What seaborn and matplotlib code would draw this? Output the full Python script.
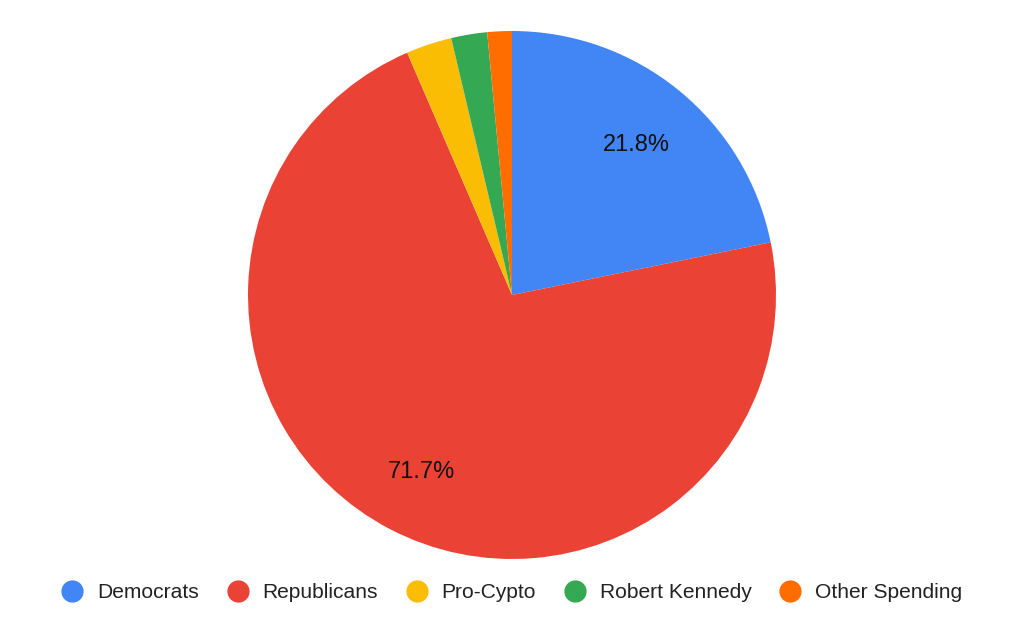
import matplotlib
matplotlib.use("Agg")
import matplotlib.pyplot as plt
import seaborn as sns
from matplotlib.lines import Line2D

sns.set_theme(style="white")
plt.rcParams['font.family'] = ['Liberation Sans', 'DejaVu Sans']

# spending share by group (%)
groups = ["Democrats", "Republicans", "Pro-Cypto", "Robert Kennedy", "Other Spending"]
shares = [21.8, 71.7, 2.8, 2.2, 1.5]
colors = ["#4285F4", "#EA4335", "#FBBC04", "#34A853", "#FF6D01"]

fig = plt.figure(figsize=(10.24, 6.34), dpi=100)
ax = fig.add_axes([0.0, 0.0, 1.0, 1.0])

def fmt(p):
    return f"{p:.1f}%" if p > 5 else ""

wedges, texts, autotexts = ax.pie(
    shares, colors=colors, startangle=90, counterclock=False,
    autopct=fmt, pctdistance=0.745, radius=1.0,
    wedgeprops=dict(linewidth=0),
    textprops=dict(fontsize=17, color="#111111"),
)
for t in autotexts:
    t.set_verticalalignment("center_baseline")

# place pie: center (512, 295) px, radius 264 px
ax.set_aspect("equal")
W, H = 1024, 634
r = 264
cx, cy = 512, H - 295
ax.set_xlim(-cx / r, (W - cx) / r)
ax.set_ylim(-cy / r, (H - cy) / r)
ax.axis("off")

handles = [Line2D([0], [0], marker="o", linestyle="", markersize=15,
                  markerfacecolor=c, markeredgecolor=c) for c in colors]
fig.legend(handles, groups, loc="center", bbox_to_anchor=(0.5, 1 - 593 / H),
           ncol=5, frameon=False, fontsize=15.1, handlelength=1.0,
           handletextpad=0.68, columnspacing=1.35, labelcolor="#222222")

fig.savefig("out.png", dpi=100, facecolor="white")
